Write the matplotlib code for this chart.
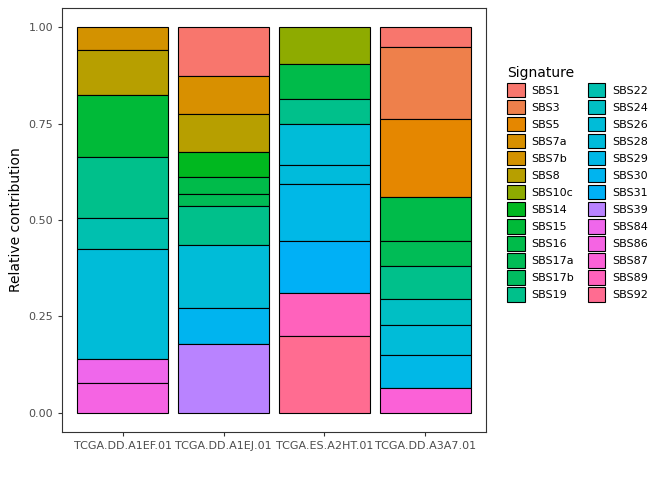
import numpy as np
import matplotlib
matplotlib.use("Agg")
import matplotlib.pyplot as plt
from matplotlib.patches import Patch

signatures = ["SBS1", "SBS3", "SBS5", "SBS7a", "SBS7b", "SBS8", "SBS10c", "SBS14", "SBS15",
              "SBS16", "SBS17a", "SBS17b", "SBS19", "SBS22", "SBS24", "SBS26", "SBS28", "SBS29",
              "SBS30", "SBS31", "SBS39", "SBS84", "SBS86", "SBS87", "SBS89", "SBS92"]
sig_colors = ["#F8766D", "#EE804B", "#E58700", "#D89000", "#D39200", "#B79F00", "#8EAB00",
              "#00B81F", "#00BA38", "#00BB4A", "#00BC56", "#00BD60", "#00C08B", "#00C0AF",
              "#00BFC4", "#00BCD8", "#00BBDB", "#00B8E7", "#00B4EF", "#00B0F6", "#B983FF",
              "#EF67EB", "#F564E3", "#FB61D7", "#FF62BC", "#FF6C91"]
samples = ["TCGA.DD.A1EF.01", "TCGA.DD.A1EJ.01", "TCGA.ES.A2HT.01", "TCGA.DD.A3A7.01"]

# top-to-bottom order within each bar
s1_sigs = ["SBS7b", "SBS8", "SBS15", "SBS19", "SBS22", "SBS26", "SBS84", "SBS86"]
s1_vals = [0.060, 0.115, 0.162, 0.159, 0.079, 0.285, 0.064, 0.076]
s2_sigs = ["SBS1", "SBS7a", "SBS8", "SBS14", "SBS16", "SBS17a", "SBS19", "SBS26", "SBS30", "SBS39"]
s2_vals = [0.126, 0.100, 0.097, 0.064, 0.044, 0.033, 0.100, 0.164, 0.092, 0.179]
s3_sigs = ["SBS10c", "SBS16", "SBS19", "SBS26", "SBS28", "SBS29", "SBS31", "SBS89", "SBS92"]
s3_vals = [0.096, 0.090, 0.064, 0.108, 0.049, 0.149, 0.133, 0.113, 0.199]
s4_sigs = ["SBS1", "SBS3", "SBS5", "SBS16", "SBS17a", "SBS19", "SBS24", "SBS26", "SBS29", "SBS87"]
s4_vals = [0.052, 0.187, 0.200, 0.115, 0.064, 0.087, 0.067, 0.077, 0.086, 0.064]

colors = dict(zip(signatures, sig_colors))

fig = plt.figure(figsize=(6.72, 4.8), dpi=100)
ax = fig.add_axes([62 / 672, 48 / 480, 424 / 672, 424 / 480])

for i, (sigs, vals) in enumerate([(s1_sigs, s1_vals), (s2_sigs, s2_vals),
                                   (s3_sigs, s3_vals), (s4_sigs, s4_vals)]):
    vals = np.array(vals) / np.sum(vals)
    top = 1.0
    for s, v in zip(sigs, vals):
        ax.bar(i, v, bottom=top - v, width=0.9, color=colors[s], edgecolor="black", linewidth=0.8)
        top -= v

ax.set_xlim(-0.6, 3.6)
ax.set_ylim(-0.05, 1.05)
ax.set_xticks(range(4))
ax.set_xticklabels(samples, fontsize=8, color="#4d4d4d")
ax.set_yticks([0, 0.25, 0.5, 0.75, 1.0])
ax.set_yticklabels(["0.00", "0.25", "0.50", "0.75", "1.00"], fontsize=8, color="#4d4d4d")
ax.set_ylabel("Relative contribution", fontsize=10)
for sp in ax.spines.values():
    sp.set_color("#333333")
    sp.set_linewidth(0.8)
ax.tick_params(length=3, color="#333333")

handles = [Patch(facecolor=colors[s], edgecolor="black", linewidth=0.8, label=s) for s in signatures]
leg = fig.legend(handles=handles, ncol=2, loc="upper left", bbox_to_anchor=(497 / 672, 1 - 56 / 480),
                 frameon=False, title="Signature", fontsize=8, title_fontsize=10,
                 handlelength=1.6, handleheight=1.6, labelspacing=0.25, columnspacing=1.2,
                 handletextpad=0.6, alignment="left")

fig.savefig("out.png", dpi=100, facecolor="white")
